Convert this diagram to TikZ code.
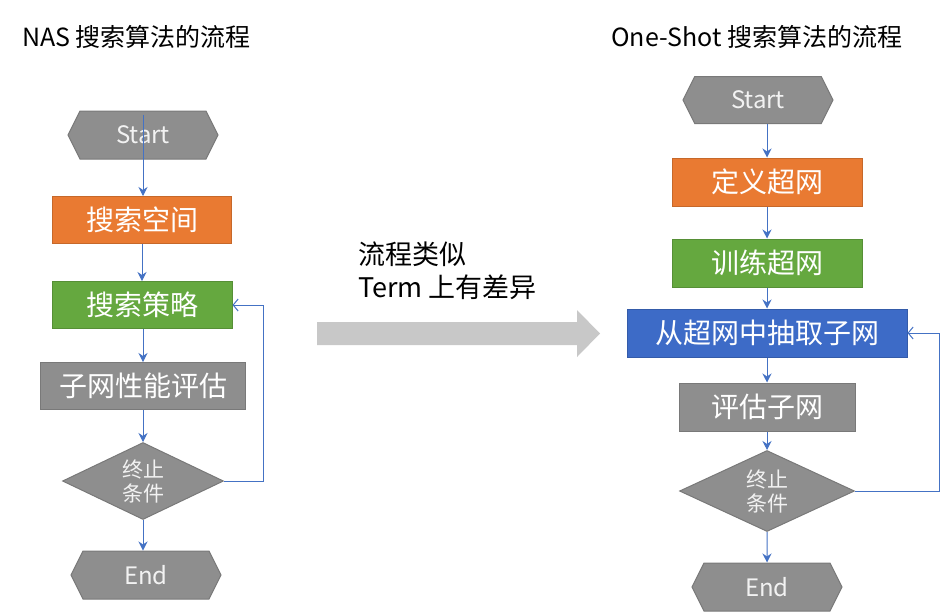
\documentclass[tikz,border=0pt]{standalone}
\usepackage{fontspec}
\setmainfont{Noto Sans CJK SC}
\usetikzlibrary{shapes.geometric,shapes.symbols,arrows.meta}
\definecolor{cOrange}{HTML}{E97A32}
\definecolor{cGreen}{HTML}{65A83F}
\definecolor{cBlue}{HTML}{3D6BC7}
\definecolor{cGray}{HTML}{8E8E8E}
\definecolor{cLine}{HTML}{4472C4}
\definecolor{cBig}{HTML}{C8C8C8}
\tikzset{
  boxbase/.style={rectangle, inner sep=0pt, text=white, line width=1pt,
    font=\fontsize{28}{32}\selectfont},
  orangebox/.style={boxbase, fill=cOrange, draw=cOrange!85!black},
  greenbox/.style={boxbase, fill=cGreen, draw=cGreen!85!black},
  bluebox/.style={boxbase, fill=cBlue, draw=cBlue!85!black},
  graybox/.style={boxbase, fill=cGray, draw=cGray!85!black},
  hexbox/.style={signal, signal to=west and east, signal pointer angle=127,
    inner sep=0pt, minimum width=150pt, minimum height=48pt,
    fill=cGray, draw=cGray!85!black, line width=1pt, text=white!95!black,
    font=\fontsize{24}{28}\selectfont},
  decbox/.style={diamond, inner sep=0pt, aspect=2, fill=cGray, draw=cGray!85!black,
    line width=1pt, text=white!95!black, align=center,
    font=\fontsize{21}{24}\selectfont},
  flow/.style={draw=cLine, line width=1pt, -{Stealth[length=9pt,width=9pt]}},
  back/.style={draw=cLine, line width=1pt, -{Straight Barb[length=5pt,width=12pt]}},
  titletext/.style={anchor=west, inner sep=0pt, font=\fontsize{25}{29}\selectfont},
}
\begin{document}
\begin{tikzpicture}[x=1pt,y=-1pt]
\useasboundingbox (0,0) rectangle (947,611);
% titles
\node[titletext] (tL) at (22,37) {NAS 搜索算法的流程};
\node[titletext] (tR) at (611,37) {One-Shot 搜索算法的流程};
% left flow
\node[hexbox] (Lstart) at (143,135) {Start};
\node[orangebox, minimum width=179pt, minimum height=47pt] (Ls1) at (142,220) {搜索空间};
\node[greenbox, minimum width=180pt, minimum height=47pt] (Ls2) at (142,305) {搜索策略};
\node[graybox, minimum width=205pt, minimum height=47pt] (Ls3) at (143,386) {子网性能评估};
\node[decbox, minimum width=161pt, minimum height=77pt] (Ld) at (143,481) {终止\\条件};
\node[hexbox] (Lend) at (146,575) {End};
\draw[flow] ([yshift=-4pt]Lstart.north) -- (Lstart.north |- Ls1.north);
\draw[flow] (Ls1) -- (Ls2);
\draw[flow] (Ls2.south -| Ls3.north) -- (Ls3.north);
\draw[flow] (Ls3) -- (Ld);
\draw[flow] (Ld) -- (Lend.north -| Ld.south);
\draw[back] (Ld.east) -- ++(39,0) |- (Ls2.east);
% middle
\fill[cBig] (317,322) -- (577,322) -- (577,310) -- (600,333.5) -- (577,357) -- (577,345) -- (317,345) -- cycle;
\node[anchor=north west, align=left, inner sep=0pt, font=\fontsize{27}{33}\selectfont] (mid) at (358,242) {流程类似\\Term 上有差异};
% right flow
\node[hexbox, minimum height=47pt] (Rstart) at (758,100) {Start};
\node[orangebox, minimum width=190pt, minimum height=48pt] (Rs1) at (767,182) {定义超网};
\node[greenbox, minimum width=190pt, minimum height=48pt] (Rs2) at (767,263) {训练超网};
\node[bluebox, minimum width=280pt, minimum height=48pt] (Rs3) at (767,333) {从超网中抽取子网};
\node[graybox, minimum width=176pt, minimum height=48pt] (Rs4) at (767,407) {评估子网};
\node[decbox, minimum width=175pt, minimum height=81pt] (Rd) at (767,491) {终止\\条件};
\node[hexbox] (Rend) at (767,587) {End};
\draw[flow] (Rs1.north |- Rstart.south) -- (Rs1.north);
\draw[flow] (Rs1) -- (Rs2);
\draw[flow] (Rs2) -- (Rs3);
\draw[flow] (Rs3) -- (Rs4);
\draw[flow] (Rs4) -- (Rd);
\draw[flow] (Rd) -- (Rend);
\draw[back] (Rd.east) -- ++(84,0) |- (Rs3.east);
\end{tikzpicture}
\end{document}
